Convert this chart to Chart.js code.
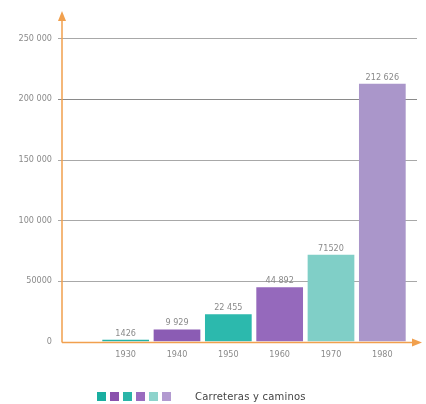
<!DOCTYPE html>
<html lang="es">
<head>
  <meta charset="UTF-8">
  <title>Carreteras y caminos</title>
  <script src="https://cdn.jsdelivr.net/npm/chart.js"></script>
  <style>
    html, body { margin: 0; padding: 0; background: #fff; overflow: hidden; }
    .wrap { position: relative; width: 426px; height: 404px; overflow: hidden; }
    #chart { position: absolute; left: 0; top: -15px; }
    .legend {
      position: absolute; left: 97px; top: 391px;
      display: flex; align-items: center;
      font-family: 'DejaVu Sans', sans-serif; font-size: 10px; color: #444;
    }
    .legend span.sw { width: 9px; height: 9px; margin-right: 4px; display: inline-block; }
    .legend .txt { margin-left: 20px; letter-spacing: 0.2px; }
  </style>
</head>
<body>
  <div class="wrap">
    <canvas id="chart" width="426" height="410"></canvas>
    <div class="legend" id="legend"></div>
  </div>
  <script>
    // datos
    const years = ['1930', '1940', '1950', '1960', '1970', '1980'];
    const kms = [1426, 9929, 22455, 44892, 71520, 212626];
    const kmLabels = ['1426', '9 929', '22 455', '44 892', '71520', '212 626'];
    const barColors = ['#22b3a6', '#8b5cb4', '#2cb9ad', '#9569bc', '#80cfc7', '#aa96ca'];
    const legendColors = ['#1aaea0', '#8a52ad', '#2ab5a8', '#9a6cbf', '#8ed3cc', '#b29ad0'];
    const yTicks = [0, 50000, 100000, 150000, 200000, 250000];
    const yTickLabels = ['0', '50000', '100 000', '150 000', '200 000', '250 000'];
    const seriesName = 'Carreteras y caminos';

    // leyenda
    const leg = document.getElementById('legend');
    legendColors.forEach(c => {
      const s = document.createElement('span');
      s.className = 'sw';
      s.style.background = c;
      leg.appendChild(s);
    });
    const t = document.createElement('span');
    t.className = 'txt';
    t.textContent = seriesName;
    leg.appendChild(t);

    // el canvas está desplazado 15px hacia arriba
    const SHIFT = 15;

    // rejilla y ejes naranjas con flecha
    const axesPlugin = {
      id: 'axes',
      beforeDatasetsDraw(chart) {
        const {ctx, scales: {y}} = chart;
        ctx.save();
        yTicks.forEach(v => {
          if (v === 0) return;
          const py = Math.round(y.getPixelForValue(v)) + 0.5;
          ctx.strokeStyle = v === 200000 ? '#8a8a8a' : '#a8a8a8';
          ctx.lineWidth = 1;
          ctx.beginPath();
          ctx.moveTo(58, py);
          ctx.lineTo(417, py);
          ctx.stroke();
        });
        ctx.restore();
      },
      afterDatasetsDraw(chart) {
        const {ctx, scales: {y}} = chart;
        const y0 = y.getPixelForValue(0) + 1;
        const ax = 62;
        ctx.save();
        ctx.strokeStyle = '#f1a04e';
        ctx.fillStyle = '#f1a04e';
        ctx.lineWidth = 1.5;
        ctx.beginPath();
        ctx.moveTo(ax, y0);
        ctx.lineTo(ax, 18 + SHIFT);
        ctx.moveTo(ax, y0);
        ctx.lineTo(414, y0);
        ctx.stroke();
        ctx.beginPath();
        ctx.moveTo(ax, 11 + SHIFT);
        ctx.lineTo(ax - 4, 21 + SHIFT);
        ctx.lineTo(ax + 4, 21 + SHIFT);
        ctx.closePath();
        ctx.fill();
        ctx.beginPath();
        ctx.moveTo(422, y0);
        ctx.lineTo(412, y0 - 4);
        ctx.lineTo(412, y0 + 4);
        ctx.closePath();
        ctx.fill();
        // valores encima de las barras
        ctx.fillStyle = '#8a8a8a';
        ctx.font = '9px "DejaVu Sans Condensed", "DejaVu Sans", sans-serif';
        ctx.textAlign = 'center';
        ctx.textBaseline = 'bottom';
        chart.getDatasetMeta(0).data.forEach((bar, i) => {
          ctx.fillText(kmLabels[i], bar.x, bar.y - 2);
        });
        ctx.restore();
      }
    };

    new Chart(document.getElementById('chart'), {
      type: 'bar',
      data: {
        labels: years,
        datasets: [{
          label: seriesName,
          data: kms,
          backgroundColor: barColors,
          borderWidth: 0,
          categoryPercentage: 1,
          barPercentage: 0.91
        }]
      },
      options: {
        responsive: false,
        animation: false,
        layout: { padding: { top: 38, right: 18, left: 0, bottom: 0 } },
        plugins: { legend: { display: false }, tooltip: { enabled: false } },
        scales: {
          x: {
            grid: { display: false },
            border: { display: false },
            ticks: {
              color: '#8a8a8a',
              padding: 0,
              font: { family: '"DejaVu Sans Condensed", "DejaVu Sans", sans-serif', size: 9 }
            }
          },
          y: {
            min: 0,
            max: 250000,
            afterFit: s => { s.width = 100; },
            afterBuildTicks: s => { s.ticks = yTicks.map(v => ({ value: v })); },
            grid: { display: false, drawTicks: false },
            border: { display: false },
            ticks: {
              color: '#8a8a8a',
              padding: 48,
              font: { family: '"DejaVu Sans Condensed", "DejaVu Sans", sans-serif', size: 9 },
              callback: v => yTickLabels[yTicks.indexOf(v)]
            }
          }
        }
      },
      plugins: [axesPlugin]
    });
  </script>
</body>
</html>
